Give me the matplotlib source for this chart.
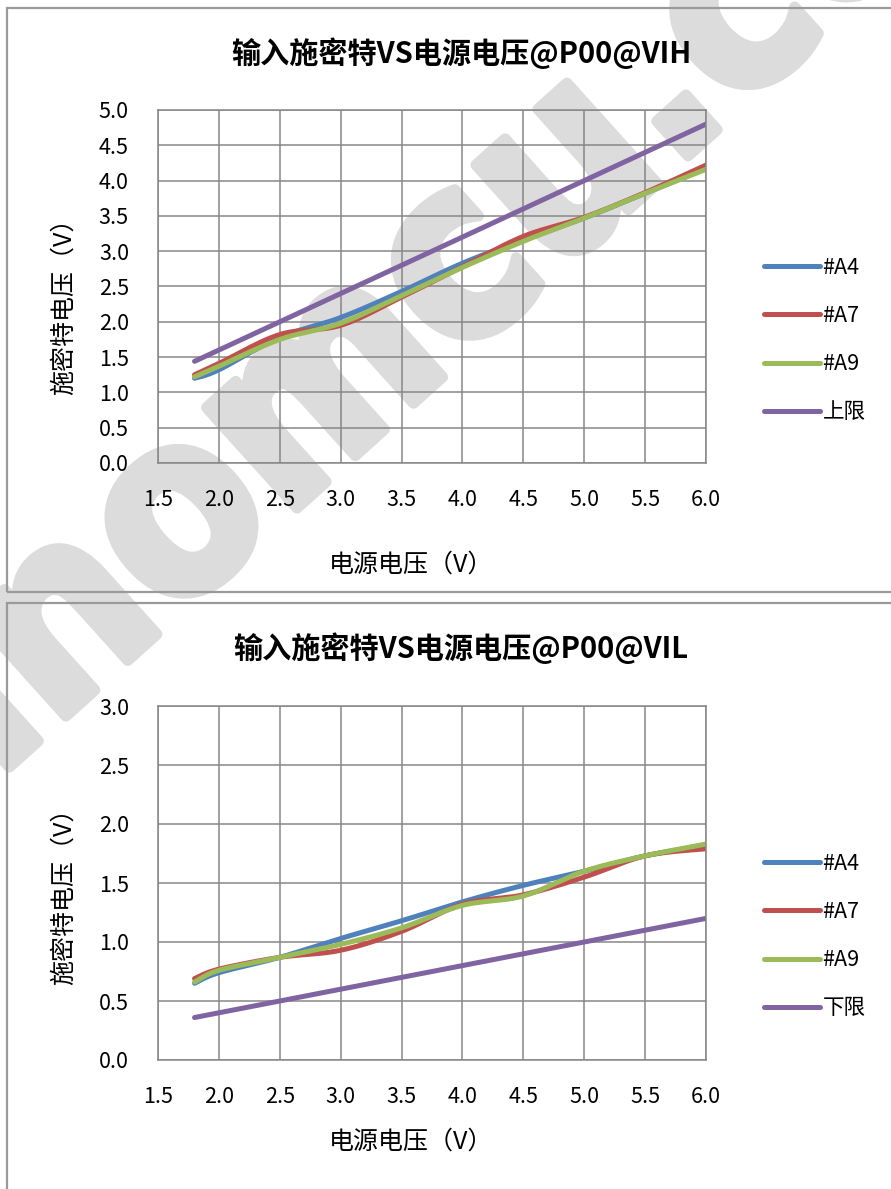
import numpy as np
import matplotlib
matplotlib.use('Agg')
import matplotlib.pyplot as plt
from matplotlib.patches import Rectangle
import matplotlib.patheffects as pe

plt.rcParams['font.family'] = ['Noto Sans CJK SC', 'DejaVu Sans']

# ---------------- data ----------------
vdd = [1.8, 2.0, 2.5, 3.0, 3.5, 4.0, 4.5, 5.0, 5.5, 6.0]

vih_a4 = [1.20, 1.32, 1.78, 2.06, 2.43, 2.83, 3.16, 3.47, 3.82, 4.17]
vih_a7 = [1.25, 1.41, 1.82, 1.95, 2.35, 2.78, 3.21, 3.48, 3.83, 4.22]
vih_a9 = [1.22, 1.37, 1.75, 1.98, 2.37, 2.77, 3.14, 3.47, 3.82, 4.16]
vih_limit = [1.44, 1.60, 2.00, 2.40, 2.80, 3.20, 3.60, 4.00, 4.40, 4.80]

vil_a4 = [0.65, 0.74, 0.87, 1.03, 1.18, 1.34, 1.48, 1.60, 1.73, 1.82]
vil_a7 = [0.69, 0.77, 0.87, 0.93, 1.09, 1.32, 1.40, 1.55, 1.73, 1.79]
vil_a9 = [0.66, 0.76, 0.87, 0.98, 1.12, 1.31, 1.39, 1.60, 1.73, 1.83]
vil_limit = [0.36, 0.40, 0.50, 0.60, 0.70, 0.80, 0.90, 1.00, 1.10, 1.20]

series_names = ['#A4', '#A7', '#A9']
colors = ['#4F81BD', '#C0504D', '#9BBB59', '#8064A2']

x_ticks = [1.5, 2.0, 2.5, 3.0, 3.5, 4.0, 4.5, 5.0, 5.5, 6.0]
title1 = '输入施密特VS电源电压@P00@VIH'
title2 = '输入施密特VS电源电压@P00@VIL'
xlabel = '电源电压（V）'
ylabel = '施密特电压（V）'
watermark = 'sinomcu.com'


def smooth(x, y, n=24):
    """Excel-style smoothed line (Bezier through the points)."""
    x = np.asarray(x, float)
    y = np.asarray(y, float)
    P = np.column_stack([x, y])
    out = [P[0]]
    for i in range(len(P) - 1):
        p0 = P[i - 1] if i > 0 else P[i]
        p1 = P[i]
        p2 = P[i + 1]
        p3 = P[i + 2] if i + 2 < len(P) else P[i + 1]
        c1 = p1 + (p2 - p0) / 6.0
        c2 = p2 - (p3 - p1) / 6.0
        t = np.linspace(0, 1, n)[1:, None]
        seg = ((1 - t) ** 3) * p1 + 3 * ((1 - t) ** 2) * t * c1 + 3 * (1 - t) * t ** 2 * c2 + t ** 3 * p2
        out.extend(seg)
    out = np.array(out)
    return out[:, 0], out[:, 1]


W, H = 891, 1189
fig = plt.figure(figsize=(W / 100, H / 100), dpi=100)


def fx(px):
    return px / W


def fy(py):
    return 1 - py / H


# watermark (behind everything)
wm_color = '#dcdcdc'
fig.text(fx(462), fy(268), watermark, rotation=42, fontsize=178,
         family='DejaVu Sans', fontweight='bold', fontstretch='condensed',
         color=wm_color, ha='center', va='center', rotation_mode='anchor', zorder=0,
         path_effects=[pe.withStroke(linewidth=8, foreground=wm_color)])

# chart boxes
for top, bot in [(8, 592), (603, 1200)]:
    fig.patches.append(Rectangle((fx(7), fy(bot)), fx(900) - fx(7), fy(top) - fy(bot),
                                 transform=fig.transFigure, fill=False,
                                 edgecolor='#9a9a9a', linewidth=1.6, zorder=1))

grid_c = '#878787'


def make_axes(top_px, bot_px, ymax, data, limit, limit_name, title, title_y, xl_y, leg_y, yl_y):
    ax = fig.add_axes([fx(158), fy(bot_px), fx(706) - fx(158), fy(top_px) - fy(bot_px)])
    ax.patch.set_alpha(0)
    ax.set_zorder(2)
    handles = []
    for vals, name, c in zip(data, series_names, colors[:3]):
        sx, sy = smooth(vdd, vals)
        h, = ax.plot(sx, sy, color=c, lw=3.6, solid_capstyle='round', label=name)
        handles.append(h)
    sx, sy = smooth(vdd, limit)
    h, = ax.plot(sx, sy, color=colors[3], lw=3.6, solid_capstyle='round', label=limit_name)
    handles.append(h)

    ax.set_xlim(1.5, 6.0)
    ax.set_ylim(0, ymax)
    ax.set_xticks(x_ticks)
    ax.set_xticklabels([f'{v:.1f}' for v in x_ticks])
    yt = np.arange(0, ymax + 0.01, 0.5)
    ax.set_yticks(yt)
    ax.set_yticklabels([f'{v:.1f}' for v in yt])
    ax.tick_params(axis='both', length=0, labelsize=15.5, colors='#000000')
    ax.tick_params(axis='y', pad=21)
    ax.tick_params(axis='x', pad=19)
    ax.grid(True, color=grid_c, lw=1.1)
    ax.set_axisbelow(True)
    for s in ax.spines.values():
        s.set_color(grid_c)
        s.set_linewidth(1.1)

    fig.text(fx(461), fy(title_y), title, fontsize=21, fontweight='bold',
             fontstyle='italic', ha='center', va='center')
    fig.text(fx(411), fy(xl_y), xlabel, fontsize=18, ha='center', va='center')
    fig.text(fx(64), fy(yl_y), ylabel, fontsize=18, ha='center', va='center', rotation=90)

    leg = ax.legend(handles=handles, loc='center left',
                    bbox_to_anchor=(fx(764), fy(leg_y)), bbox_transform=fig.transFigure,
                    frameon=False, fontsize=15.5, handlelength=2.6, handletextpad=0.12,
                    labelspacing=1.22, borderaxespad=0, borderpad=0)
    for l in leg.get_lines():
        l.set_linewidth(3.6)
        l.set_solid_capstyle('round')
    return ax


make_axes(110, 463, 5.0, [vih_a4, vih_a7, vih_a9], vih_limit, '上限',
          title1, 53, 565, 340, 300)
make_axes(706, 1060, 3.0, [vil_a4, vil_a7, vil_a9], vil_limit, '下限',
          title2, 648, 1142, 936, 890)

fig.savefig('out.png', dpi=100)
